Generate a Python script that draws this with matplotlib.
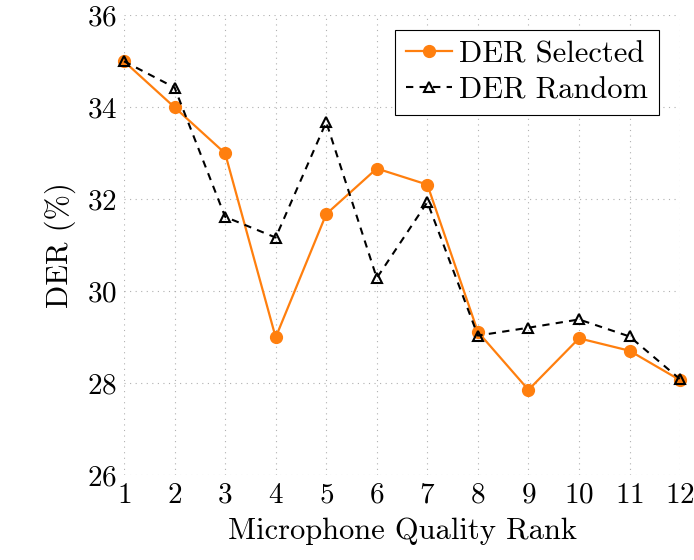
import matplotlib
matplotlib.use("Agg")
import matplotlib.pyplot as plt

# LaTeX-like look using the Computer Modern font shipped with matplotlib
plt.rcParams['font.family'] = 'cmr10'
plt.rcParams['axes.formatter.use_mathtext'] = True
plt.rcParams['mathtext.fontset'] = 'cm'

ranks = [1, 2, 3, 4, 5, 6, 7, 8, 9, 10, 11, 12]
der_selected = [35.0, 34.0, 33.0, 29.0, 31.68, 32.67, 32.32, 29.12, 27.86, 28.98, 28.71, 28.07]
der_random = [35.0, 34.43, 31.62, 31.17, 33.68, 30.29, 31.94, 29.04, 29.21, 29.39, 29.02, 28.09]
yticks = [26, 28, 30, 32, 34, 36]

fig = plt.figure(figsize=(6.94, 5.6), dpi=100)
ax = fig.add_axes([0.1787, 0.151, 0.8013, 0.8217])

ax.plot(ranks, der_selected, color='#ff7f0e', linewidth=1.6, marker='o',
        markersize=8.5, label='DER Selected', clip_on=False, zorder=3)
ax.plot(ranks, der_random, color='black', linewidth=1.5, linestyle=(0, (3.5, 3)),
        marker='^', markersize=6.5, markerfacecolor='none', markeredgewidth=1.5,
        label='DER Random', clip_on=False, zorder=4)

ax.set_xlim(1, 12)
ax.set_ylim(26, 36)
ax.set_xticks(ranks)
ax.set_yticks(yticks)
ax.tick_params(length=0, labelsize=21, pad=5)
for s in ax.spines.values():
    s.set_visible(False)
ax.grid(True, linestyle=(0, (1, 4)), color='#b0b0b0', linewidth=0.8)
ax.set_axisbelow(True)

ax.set_xlabel('Microphone Quality Rank', fontsize=22, labelpad=6)
ax.set_ylabel('DER (%)', fontsize=22, labelpad=8)

leg = ax.legend(loc='upper right', fontsize=22, frameon=True, fancybox=False,
                edgecolor='black', framealpha=1, handlelength=1.5,
                borderpad=0.35, labelspacing=0.28, handletextpad=0.25,
                borderaxespad=0, bbox_to_anchor=(0.962, 0.968))
leg.get_frame().set_linewidth(0.8)

fig.savefig('out.png', dpi=100)
